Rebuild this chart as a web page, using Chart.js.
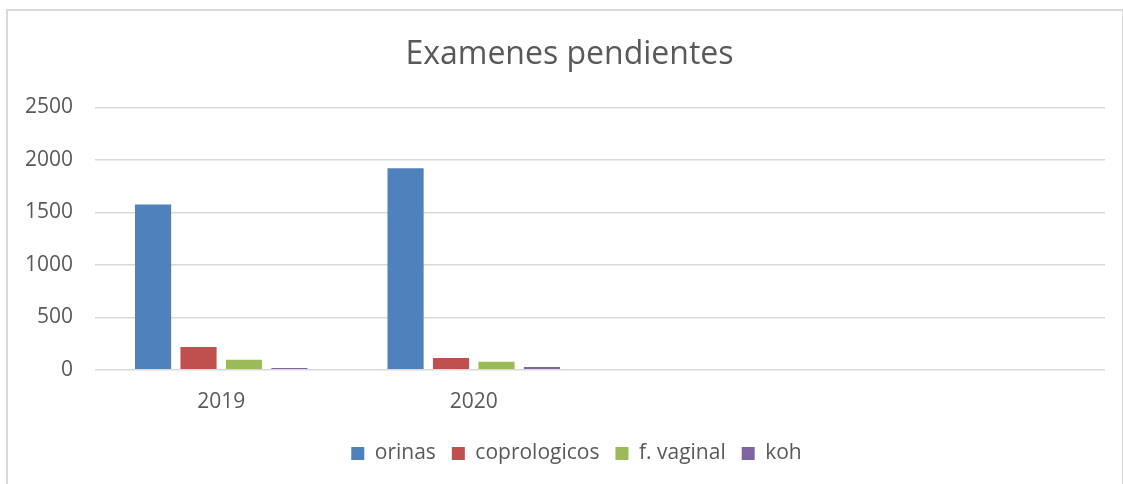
<!DOCTYPE html>
<html>
<head>
<meta charset="utf-8">
<script src="https://cdn.jsdelivr.net/npm/chart.js@4"></script>
<style>
  body { margin: 0; background: #fff; }
  #frame { position: absolute; left: 6px; top: 9px; width: 1114px; height: 500px; border: 2px solid #d9d9d9; }
  #wrap { position: absolute; left: 0; top: 0; width: 1123px; height: 484px; }
</style>
</head>
<body>
<div id="frame"></div>
<div id="wrap"><canvas id="myChart"></canvas></div>
<script>
const years = ["2019", "2020", "", ""];
const orinas = [1575, 1920, null, null];
const coprologicos = [218, 112, null, null];
const vaginal = [96, 77, null, null];
const koh = [16, 26, null, null];

// nudge title / legend a little to the right, like the original
const shiftBoxes = {
  id: "shiftBoxes",
  afterLayout(chart) {
    chart.titleBlock.left += 14;
    chart.legend.left += 28;
  },
};

const ctx = document.getElementById("myChart").getContext("2d");
const fontFam = "'Open Sans', sans-serif";
const myChart = new Chart(ctx, {
  type: "bar",
  data: {
    labels: years,
    datasets: [
      { label: "orinas", data: orinas, backgroundColor: "#4f81bd" },
      { label: "coprologicos", data: coprologicos, backgroundColor: "#c0504d" },
      { label: "f. vaginal", data: vaginal, backgroundColor: "#9bbb59" },
      { label: "koh", data: koh, backgroundColor: "#8064a2" },
    ].map(d => Object.assign(d, { barPercentage: 0.795, categoryPercentage: 0.72 })),
  },
  plugins: [shiftBoxes],
  options: {
    responsive: true,
    maintainAspectRatio: false,
    animation: false,
    layout: { padding: { top: 10, right: 18, bottom: 10, left: 20 } },
    plugins: {
      title: {
        display: true,
        text: "Examenes pendientes",
        color: "#595959",
        font: { family: fontFam, size: 32, weight: "normal" },
        padding: { top: 26, bottom: 33 },
      },
      legend: {
        position: "bottom",
        labels: {
          color: "#595959",
          font: { family: fontFam, size: 21 },
          boxWidth: 13,
          boxHeight: 13,
          padding: 16,
        },
      },
      tooltip: { enabled: false },
    },
    scales: {
      x: {
        grid: { display: false },
        border: { display: false },
        ticks: { color: "#595959", font: { family: fontFam, size: 21 }, padding: 12 },
      },
      y: {
        min: 0,
        max: 2500,
        ticks: {
          stepSize: 500, color: "#595959", font: { family: fontFam, size: 21 }, padding: 22,
          callback: (v) => String(v),
        },
        grid: { color: "#d9d9d9", lineWidth: 1.5, drawTicks: false },
        border: { display: false },
        afterFit: (s) => { s.width = 75; },
      },
    },
  },
});
</script>
</body>
</html>
